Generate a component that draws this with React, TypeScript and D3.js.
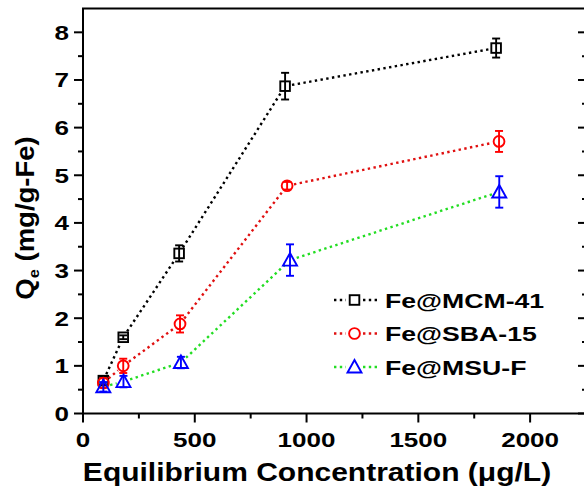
import React from 'react';
import * as d3 from 'd3';

const W = 584;
const H = 499;

// Fe@MCM-41
const mcmX = [91, 180, 430, 904, 1848];
const mcmY = [0.69, 1.6, 3.36, 6.87, 7.67];
const mcmErr = [0.08, 0.04, 0.17, 0.28, 0.2];
// Fe@SBA-15
const sbaX = [91, 180, 434, 913, 1861];
const sbaY = [0.64, 1.0, 1.88, 4.78, 5.71];
const sbaErr = [0.1, 0.15, 0.18, 0.08, 0.22];
// Fe@MSU-F
const msuX = [91, 181, 438, 926, 1862];
const msuY = [0.56, 0.67, 1.07, 3.22, 4.65];
const msuErr = [0.1, 0.12, 0.12, 0.33, 0.33];

const legendLabels = ['Fe@MCM-41', 'Fe@SBA-15', 'Fe@MSU-F'];
const xTicks = [0, 500, 1000, 1500, 2000];
const yTicks = [0, 1, 2, 3, 4, 5, 6, 7, 8];

const FONT = "'Liberation Sans', Arial, sans-serif";
const STRETCH = 1.24;

const series = [
  { xs: mcmX, ys: mcmY, errs: mcmErr, symbol: 'square', color: '#000000', line: '#000000' },
  { xs: sbaX, ys: sbaY, errs: sbaErr, symbol: 'circle', color: '#ff0000', line: '#e01010' },
  { xs: msuX, ys: msuY, errs: msuErr, symbol: 'triangle', color: '#0000ff', line: '#22dd22' },
];

function Marker({ type, cx, cy, color }: { type: string; cx: number; cy: number; color: string }) {
  if (type === 'square') {
    return <rect x={cx - 4.8} y={cy - 4.8} width={9.6} height={9.6} fill="none" stroke={color} strokeWidth={1.9} />;
  }
  if (type === 'circle') {
    return <circle cx={cx} cy={cy} r={5.4} fill="none" stroke={color} strokeWidth={1.9} />;
  }
  const p = d3.path();
  p.moveTo(cx, cy - 7);
  p.lineTo(cx + 7, cy + 5.5);
  p.lineTo(cx - 7, cy + 5.5);
  p.closePath();
  return <path d={p.toString()} fill="none" stroke={color} strokeWidth={1.9} />;
}

// dotted segment between two points, trimmed so it stops short of the markers
function gapSegment(x1: number, y1: number, x2: number, y2: number, gap: number) {
  const dx = x2 - x1;
  const dy = y2 - y1;
  const len = Math.hypot(dx, dy);
  if (len <= gap * 2) return null;
  const ux = dx / len;
  const uy = dy / len;
  return [x1 + ux * gap, y1 + uy * gap, x2 - ux * gap, y2 - uy * gap];
}

export default function App() {
  const x = d3.scaleLinear().domain([0, 2250]).range([83, 586]);
  const y = d3.scaleLinear().domain([0, 8.5]).range([413.5, 8.5]);

  const xMinor = d3.range(250, 2250, 500);
  const yMinor = d3.range(0.5, 8.5, 1);

  const legendY = [300, 333.5, 367];

  return (
    <svg width={W} height={H} style={{ position: 'absolute', left: 0, top: 0, background: '#fff' }}
      fontFamily={FONT} fontWeight="bold">
      {/* frame */}
      <rect x={x(0)} y={y(8.5)} width={x(2250) - x(0)} height={y(0) - y(8.5)}
        fill="none" stroke="#000" strokeWidth={2} />

      {/* left + right y ticks */}
      {yTicks.map((t) => (
        <g key={'yt' + t}>
          <line x1={x(0) - 9} x2={x(0)} y1={y(t)} y2={y(t)} stroke="#000" strokeWidth={2} />
          <line x1={x(2250) - 8} x2={x(2250)} y1={y(t)} y2={y(t)} stroke="#000" strokeWidth={2} />
          <text transform={`translate(${x(0) - 14},${y(t) + 7.5}) scale(${STRETCH},1)`}
            textAnchor="end" fontSize={21} fill="#000">{t}</text>
        </g>
      ))}
      {yMinor.map((t) => (
        <g key={'ym' + t}>
          <line x1={x(0) - 5} x2={x(0)} y1={y(t)} y2={y(t)} stroke="#000" strokeWidth={2} />
          <line x1={x(2250) - 4} x2={x(2250)} y1={y(t)} y2={y(t)} stroke="#000" strokeWidth={2} />
        </g>
      ))}

      {/* bottom x ticks */}
      {xTicks.map((t) => (
        <g key={'xt' + t}>
          <line x1={x(t)} x2={x(t)} y1={y(0)} y2={y(0) + 9} stroke="#000" strokeWidth={2} />
          <text transform={`translate(${x(t)},${447}) scale(${STRETCH},1)`}
            textAnchor="middle" fontSize={21} fill="#000">{t}</text>
        </g>
      ))}
      {xMinor.map((t) => (
        <line key={'xm' + t} x1={x(t)} x2={x(t)} y1={y(0)} y2={y(0) + 5} stroke="#000" strokeWidth={2} />
      ))}

      {/* axis titles */}
      <text transform={`translate(317,481) scale(1.2,1)`} textAnchor="middle" fontSize={25} fill="#000">
        Equilibrium Concentration (μg/L)
      </text>
      <text transform={`translate(34,218) rotate(-90) scale(1.1,1)`} textAnchor="middle" fontSize={25} fill="#000">
        Q<tspan fontSize={15} dy={5}>e</tspan><tspan dy={-5}> (mg/g-Fe)</tspan>
      </text>

      {/* series */}
      {series.map((s, si) => {
        const pts = s.xs.map((v, i) => [x(v), y(s.ys[i])]);
        return (
          <g key={'s' + si}>
            {pts.slice(1).map((p, i) => {
              const seg = gapSegment(pts[i][0], pts[i][1], p[0], p[1], 7);
              if (!seg) return null;
              return (
                <line key={i} x1={seg[0]} y1={seg[1]} x2={seg[2]} y2={seg[3]}
                  stroke={s.line} strokeWidth={2.4} strokeDasharray="2.4,3.4" />
              );
            })}
            {pts.map((p, i) => {
              const top = y(s.ys[i] + s.errs[i]);
              const bot = y(s.ys[i] - s.errs[i]);
              return (
                <g key={'e' + i} stroke={s.color} strokeWidth={1.9}>
                  <line x1={p[0]} x2={p[0]} y1={top} y2={bot} />
                  <line x1={p[0] - 4} x2={p[0] + 4} y1={top} y2={top} />
                  <line x1={p[0] - 4} x2={p[0] + 4} y1={bot} y2={bot} />
                </g>
              );
            })}
            {pts.map((p, i) => (
              <Marker key={'m' + i} type={s.symbol} cx={p[0]} cy={p[1]} color={s.color} />
            ))}
          </g>
        );
      })}

      {/* legend */}
      {series.map((s, i) => (
        <g key={'lg' + i}>
          <line x1={334} x2={346} y1={legendY[i]} y2={legendY[i]} stroke={s.line}
            strokeWidth={2.4} strokeDasharray="2.4,3.4" />
          <line x1={363} x2={377} y1={legendY[i]} y2={legendY[i]} stroke={s.line}
            strokeWidth={2.4} strokeDasharray="2.4,3.4" />
          <Marker type={s.symbol} cx={354.5} cy={legendY[i]} color={s.color} />
          <text transform={`translate(385,${legendY[i] + 7.5}) scale(1.3,1)`} fontSize={20.5} fill="#000">
            {legendLabels[i]}
          </text>
        </g>
      ))}
    </svg>
  );
}
